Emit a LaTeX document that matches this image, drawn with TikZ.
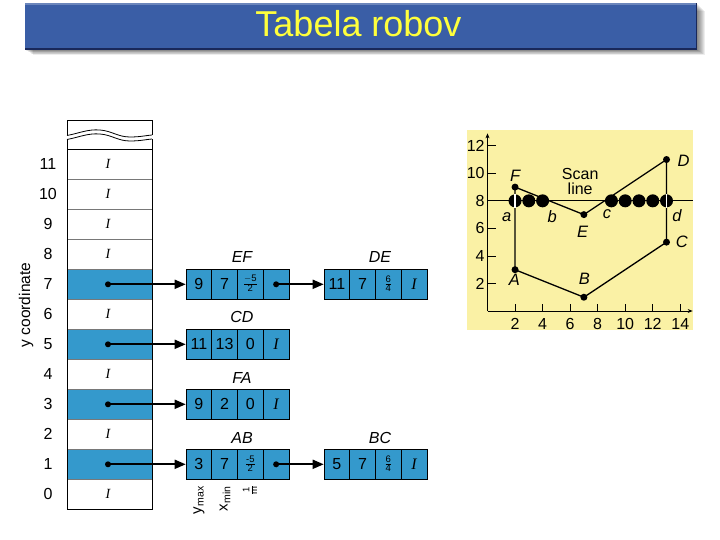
\documentclass[tikz,border=0pt]{standalone}
\usepackage{fontspec}
\setmainfont{Liberation Sans}
\newfontfamily\timesfont{Liberation Serif}
\usetikzlibrary{arrows.meta}
\definecolor{cellblue}{RGB}{52,153,204}
\definecolor{titleblue}{RGB}{58,94,166}
\definecolor{titledark}{RGB}{25,40,90}
\definecolor{titletext}{RGB}{255,255,60}
\definecolor{plotbg}{RGB}{250,241,165}
\definecolor{rowline}{RGB}{120,120,120}
\newcommand\nul{{\timesfont\itshape I}}
\newcommand\stfrac[2]{{\fontsize{9.5}{9.5}\selectfont\def\arraystretch{0.72}\begin{tabular}{@{}c@{}}#1\\\hline #2\end{tabular}}}
\newcommand\record[7]{%
  \node[cell] (#1-1) at (#2+12.875,#3) {#4};
  \node[cell] (#1-2) at (#2+38.625,#3) {#5};
  \node[cell] (#1-3) at (#2+64.375,#3) {#6};
  \node[cell] (#1-4) at (#2+90.125,#3) {#7};}
\begin{document}
\begin{tikzpicture}[x=1pt,y=-1pt,
  cell/.style={draw=black, line width=0.6pt, fill=cellblue, minimum width=25.75pt, minimum height=30pt, inner sep=0pt, font=\fontsize{16}{16}\selectfont},
  rowlab/.style={font=\fontsize{16}{16}\selectfont},
  nulptr/.style={font=\fontsize{14}{14}\selectfont, inner sep=0pt},
  recname/.style={font=\fontsize{16}{16}\selectfont\itshape},
  dot/.style={circle, fill=black, minimum size=6pt, inner sep=0pt},
  ptr/.style={line width=1.8pt, -{Triangle[length=11pt,width=9pt]}},
  vdot/.style={circle, fill=black, minimum size=7pt, inner sep=0pt},
  pix/.style={circle, fill=black, minimum size=13pt, inner sep=0pt},
  ptlab/.style={font=\fontsize{16.5}{16.5}\selectfont\itshape},
  ticklab/.style={font=\fontsize{16}{16}\selectfont, inner sep=0pt},
  sublab/.style={font=\fontsize{15}{15}\selectfont, rotate=90, anchor=east, inner sep=0pt}]
\useasboundingbox (0,0) rectangle (720,540);
\fill[white] (0,0) rectangle (720,540);

% ---------- title bar ----------
\foreach \i in {1,...,8}
  \fill[black, opacity=0.07] (25+\i,3+\i) rectangle (697+\i,50+0.6*\i);
\fill[titleblue] (25,3) rectangle (697,50);
\fill[white, opacity=0.25] (25,3) rectangle (697,5);
\draw[titledark, line width=1.5pt] (25,49.25) -- (696.25,49.25) -- (696.25,3);
\node[font=\fontsize{36}{36}\selectfont, text=titletext, inner sep=0pt] (title) at (358.5,24) {Tabela robov};

% ---------- edge table ----------
\foreach \k in {1,3,5,7}
  \fill[cellblue] (67,{509.3-30*(\k+1)}) rectangle (152,{509.3-30*\k});
\foreach \k in {1,...,11}
  \draw[rowline, line width=0.6pt] (67,{509.3-30*\k}) -- (152,{509.3-30*\k});
\draw[black, line width=0.7pt] (67,149.3) -- (152,149.3);
\draw[black, line width=0.8pt] (67,139) -- (67,509.3) -- (152,509.3) -- (152,139);
% broken top
\draw[black, line width=0.8pt] (67,135.5) -- (67,120) -- (152,120) -- (152,135);
\draw[black, line width=0.8pt] (67,135.5) .. controls (80,133) and (88,129) .. (100,130)
  .. controls (112,131) and (118,137) .. (130,137) .. controls (140,137) and (146,135.5) .. (152,135);
\draw[black, line width=0.8pt] (67,139.5) .. controls (80,137) and (88,133) .. (100,134)
  .. controls (112,135) and (118,141) .. (130,141) .. controls (140,141) and (146,139.5) .. (152,139);
\foreach \k in {0,...,11}
  \node[rowlab] (r\k) at (48,{494.3-30*\k}) {\k};
\foreach \k in {0,2,4,6,8,9,10,11}
  \node[nulptr] (n\k) at (108,{494.3-30*\k}) {\nul};
\foreach \k in {1,3,5,7}
  \node[dot] (d\k) at (108,{494.3-30*\k}) {};
\node[font=\fontsize{15.5}{15.5}\selectfont, rotate=90] (ycoord) at (26,305) {y coordinate};

% ---------- edge records ----------
\record{EF}{186}{284.3}{9}{7}{\stfrac{$-$5}{2}}{}
\record{DE}{324}{284.3}{11}{7}{\stfrac{6}{4}}{\nul}
\record{CD}{186}{344.3}{11}{13}{0}{\nul}
\record{FA}{186}{404.3}{9}{2}{0}{\nul}
\record{AB}{186}{464.3}{3}{7}{\stfrac{-5}{2}}{}
\record{BC}{324}{464.3}{5}{7}{\stfrac{6}{4}}{\nul}
\node[recname] (lEF) at (242,257) {EF};
\node[recname] (lDE) at (380,257) {DE};
\node[recname] (lCD) at (242,317) {CD};
\node[recname] (lFA) at (242,378) {FA};
\node[recname] (lAB) at (242,438) {AB};
\node[recname] (lBC) at (380,438) {BC};
\node[dot] (efd) at (EF-4) {};
\node[dot] (abd) at (AB-4) {};
\draw[ptr] (d7.center) -- (EF-1.west);
\draw[ptr] (d5.center) -- (CD-1.west);
\draw[ptr] (d3.center) -- (FA-1.west);
\draw[ptr] (d1.center) -- (AB-1.west);
\draw[ptr] (efd.center) -- (DE-1.west);
\draw[ptr] (abd.center) -- (BC-1.west);
\node[sublab] (ymax) at (199,486) {y\textsubscript{max}};
\node[sublab] (xmin) at (225,486) {x\textsubscript{min}};
\node[sublab] (invm) at (251,486) {\stfrac{1}{m}};

% ---------- graph ----------
\fill[plotbg] (467,130) rectangle (693,330);
\begin{scope}[shift={(487.5pt,-311pt)}, x=13.77pt, y=13.77pt]
  \draw[line width=0.8pt, -{Stealth[length=5pt,width=4pt]}] (0,0) -- (0,12.9);
  \draw[line width=0.8pt, -{Stealth[length=5pt,width=4pt]}] (0,0) -- (14.9,0);
  \foreach \v in {2,4,...,12} {
    \draw[line width=0.8pt] (0,\v) -- (0.6,\v);
    \node[ticklab, anchor=east] at (-0.2,\v) {\v};
  }
  \foreach \v in {2,4,...,14} {
    \draw[line width=0.8pt] (\v,0) -- (\v,0.5);
    \node[ticklab, anchor=north] at (\v,-0.5) {\v};
  }
  % scan line
  \draw[line width=1pt] (0,8) -- (14.9,8);
  % polygon vertices
  \node[vdot] (pA) at (2,3) {};
  \node[vdot] (pB) at (7,1) {};
  \node[vdot] (pC) at (13,5) {};
  \node[vdot] (pD) at (13,11) {};
  \node[vdot] (pE) at (7,7) {};
  \node[vdot] (pF) at (2,9) {};
  \draw[line width=1.3pt] (pA.center) -- (pB.center) -- (pC.center) -- (pD.center)
    -- (pE.center) -- (pF.center) -- cycle;
  % filled pixels
  \foreach \x in {2,3,4,9,10,11,12,13}
    \node[pix] (px\x) at (\x,8) {};
  \draw[white, line width=1.2pt] (px2.north) -- (px2.south);
  \draw[white, line width=1.2pt] (px13.north) -- (px13.south);
  % labels
  \node[ptlab] (lF) at (2,9.83) {F};
  \node[ptlab] (lA) at (1.95,2.24) {A};
  \node[ptlab] (lB) at (7.04,2.36) {B};
  \node[ptlab] (lC) at (14.12,5.01) {C};
  \node[ptlab] (lD) at (14.24,10.92) {D};
  \node[ptlab] (lE) at (6.9,5.73) {E};
  \node[ptlab] (la) at (1.4,6.85) {a};
  \node[ptlab] (lb) at (4.7,6.85) {b};
  \node[ptlab] (lc) at (8.67,7.06) {c};
  \node[ptlab] (ld) at (13.76,6.94) {d};
  \node[font=\fontsize{16}{15}\selectfont, align=center, inner sep=0pt] (scan) at (6.73,9.42) {Scan\\line};
\end{scope}
\end{tikzpicture}
\end{document}
